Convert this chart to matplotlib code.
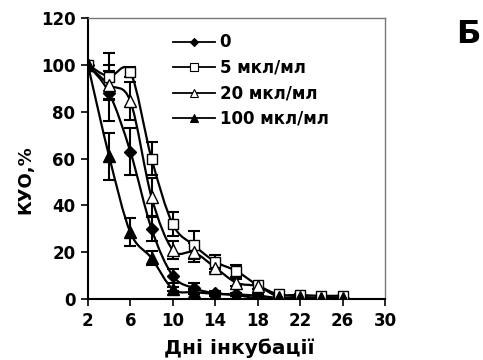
import matplotlib.pyplot as plt
import numpy as np
from matplotlib.path import Path
from matplotlib.patches import PathPatch

plt.rcParams["font.family"] = ["DejaVu Sans"]
plt.rcParams["font.weight"] = "bold"

days = [2, 4, 6, 8, 10, 12, 14, 16, 18, 20, 22, 24, 26]

kuo_0 = [100, 88, 63, 30, 10, 4.7, 2.5, 2, 1.5, 0.5, 0.3, 0.3, 0.3]
err_0 = [0, 12, 10, 5, 3, 2, 1, 0.5, 0.5, 0, 0, 0, 0]

kuo_5 = [100, 95, 97, 60, 32, 23, 16, 12, 6, 2, 1.8, 1.4, 1.5]
err_5 = [0, 10, 2, 7, 5, 6, 3, 2.5, 1.5, 0.5, 0.5, 0, 0]

kuo_20 = [100, 91.5, 84.5, 43.5, 21, 20, 13.5, 7, 5.5, 1, 1, 0.5, 0.5]
err_20 = [0, 6, 8, 8, 4, 4, 2, 1.5, 1, 0, 0, 0, 0]

kuo_100 = [100, 61, 28.5, 17.5, 4.3, 3, 2.3, 1.7, 0.4, 0.3, 0.2, 0.2, 0.2]
err_100 = [0, 10, 6, 3, 1, 1, 0.5, 0.5, 0.3, 0, 0, 0, 0]

labels = ["0", "5 мкл/мл", "20 мкл/мл", "100 мкл/мл"]
x_ticks = [2, 6, 10, 14, 18, 22, 26, 30]
y_ticks = [0, 20, 40, 60, 80, 100, 120]


def smooth_path(x, y, tension=1 / 6):
    # Excel-style smoothed line: Catmull-Rom segments as cubic Bezier curves
    pts = np.column_stack([x, y]).astype(float)
    verts = [pts[0]]
    codes = [Path.MOVETO]
    n = len(pts)
    for i in range(n - 1):
        p0 = pts[i - 1] if i > 0 else pts[i]
        p1 = pts[i]
        p2 = pts[i + 1]
        p3 = pts[i + 2] if i + 2 < n else pts[i + 1]
        c1 = p1 + (p2 - p0) * tension
        c2 = p2 - (p3 - p1) * tension
        verts += [c1, c2, p2]
        codes += [Path.CURVE4] * 3
    return Path(verts, codes)


fig = plt.figure(figsize=(4.83, 3.6), dpi=100)
ax = fig.add_axes([0.182, 0.169, 0.615, 0.781])

series = [
    (kuo_0, err_0, dict(marker="D", markersize=6, markerfacecolor="black")),
    (kuo_5, err_5, dict(marker="s", markersize=7.5, markerfacecolor="white")),
    (kuo_20, err_20, dict(marker="^", markersize=8, markerfacecolor="white")),
    (kuo_100, err_100, dict(marker="^", markersize=8, markerfacecolor="black")),
]

handles = []
for (vals, errs, style), lab in zip(series, labels):
    ax.add_patch(PathPatch(smooth_path(days, vals), facecolor="none",
                           edgecolor="black", lw=1.6, zorder=2))
    ax.errorbar(days, vals, yerr=errs, fmt="none", ecolor="black",
                elinewidth=1.5, capsize=4, capthick=1.5, zorder=3)
    ax.plot(days, vals, linestyle="none", color="black",
            markeredgecolor="black", markeredgewidth=1, zorder=4, **style)
    h, = ax.plot([], [], color="black", lw=1.3, markeredgecolor="black",
                 markeredgewidth=0.8,
                 **{**style, "markersize": style["markersize"] * 0.7})
    handles.append(h)

ax.set_xlim(2, 30)
ax.set_ylim(0, 120)
ax.set_xticks(x_ticks)
ax.set_yticks(y_ticks)
ax.tick_params(direction="out", length=5, width=1.2, labelsize=12, pad=4)
for lbl in ax.get_xticklabels() + ax.get_yticklabels():
    lbl.set_fontweight("bold")

for side in ["left", "bottom"]:
    ax.spines[side].set_linewidth(1.5)
for side in ["top", "right"]:
    ax.spines[side].set_linewidth(1.0)
    ax.spines[side].set_color("#777777")

ax.set_xlabel("Дні інкубації", fontsize=14.5, fontweight="bold")
ax.set_ylabel("КУО,%", fontsize=13, fontweight="bold")
ax.xaxis.set_label_coords(0.51, -0.175)
ax.yaxis.set_label_coords(-0.212, 0.424)
ax.xaxis.label.set_va("center")
ax.yaxis.label.set_va("center")

ax.legend(handles, labels, loc="upper left", bbox_to_anchor=(0.286, 0.945),
          frameon=False, handlelength=2.5, handletextpad=0.3,
          labelspacing=0.45, borderaxespad=0, borderpad=0,
          prop={"weight": "bold", "size": 12})

fig.text(0.97, 0.905, "Б", fontsize=23, fontweight="bold",
         ha="center", va="center")

fig.savefig("out.png", dpi=100)
